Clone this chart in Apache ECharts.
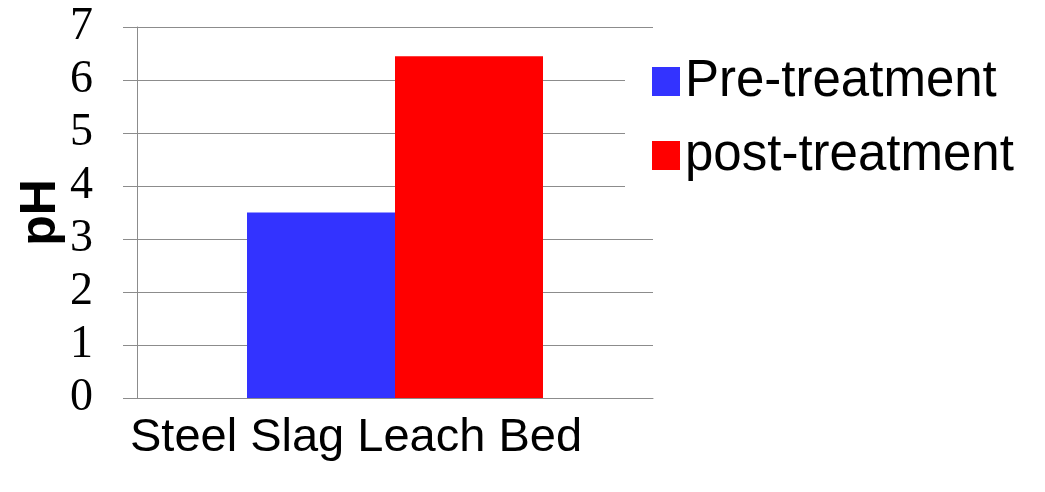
<!DOCTYPE html>
<html>
<head>
<meta charset="utf-8">
<script src="https://cdn.jsdelivr.net/npm/echarts@6/dist/echarts.min.js"></script>
<style>
  html, body { margin: 0; padding: 0; background: #fff; }
  #chart { width: 1045px; height: 492px; }
</style>
</head>
<body>
<div id="chart"></div>
<script>
const categories = ['Steel Slag Leach Bed']
const preTreatment = [3.5]
const postTreatment = [6.45]

const chart = echarts.init(document.getElementById('chart'), null, { renderer: 'canvas' })

chart.setOption({
  animation: false,
  backgroundColor: '#fff',
  grid: { left: 137, right: 392, top: 27, bottom: 94 },
  legend: {
    left: 625,
    top: 35,
    orient: 'vertical',
    backgroundColor: '#fff',
    padding: [21, 10, 20, 27],
    itemWidth: 28,
    itemHeight: 29,
    itemGap: 23,
    icon: 'rect',
    textStyle: { fontFamily: 'Liberation Sans', fontSize: 51, color: '#000', lineHeight: 50 },
    data: ['Pre-treatment', 'post-treatment']
  },
  xAxis: {
    type: 'category',
    data: categories,
    axisLine: { lineStyle: { color: '#8c8c8c', width: 1 } },
    axisTick: { show: false },
    axisLabel: {
      color: '#000',
      fontFamily: 'Liberation Sans',
      fontSize: 47,
      lineHeight: 48,
      margin: 16,
      padding: [0, 78, 0, 0]
    }
  },
  yAxis: {
    type: 'value',
    min: 0,
    max: 7,
    interval: 1,
    name: 'pH',
    nameLocation: 'middle',
    nameRotate: 90,
    nameGap: 71,
    nameTextStyle: { fontFamily: 'Liberation Sans', fontSize: 50, fontWeight: 'bold', color: '#000' },
    axisLine: { show: true, lineStyle: { color: '#8c8c8c', width: 1 } },
    axisTick: { show: true, length: 14, lineStyle: { color: '#8c8c8c' } },
    axisLabel: { color: '#000', fontFamily: 'Liberation Serif', fontSize: 46, margin: 44 },
    splitLine: { lineStyle: { color: '#8c8c8c', width: 1 } }
  },
  series: [
    {
      name: 'Pre-treatment',
      type: 'bar',
      data: preTreatment,
      barWidth: 148,
      barGap: '0%',
      itemStyle: { color: '#3333FF' }
    },
    {
      name: 'post-treatment',
      type: 'bar',
      data: postTreatment,
      barWidth: 148,
      itemStyle: { color: '#FF0000' }
    }
  ]
})
</script>
</body>
</html>
